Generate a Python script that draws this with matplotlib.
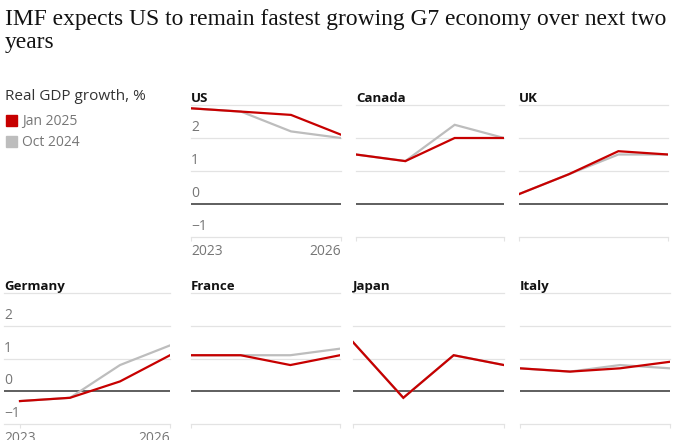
import matplotlib

matplotlib.use('Agg')
import matplotlib.pyplot as plt

# data
years = [2023, 2024, 2025, 2026]
countries = ['US', 'Canada', 'UK', 'Germany', 'France', 'Japan', 'Italy']
jan_2025 = {
    'US': [2.9, 2.8, 2.7, 2.1],
    'Canada': [1.5, 1.3, 2.0, 2.0],
    'UK': [0.3, 0.9, 1.6, 1.5],
    'Germany': [-0.3, -0.2, 0.3, 1.1],
    'France': [1.1, 1.1, 0.8, 1.1],
    'Japan': [1.5, -0.2, 1.1, 0.8],
    'Italy': [0.7, 0.6, 0.7, 0.9],
}
oct_2024 = {
    'US': [2.9, 2.8, 2.2, 2.0],
    'Canada': [1.5, 1.3, 2.4, 2.0],
    'UK': [0.3, 0.9, 1.5, 1.5],
    'Germany': [-0.3, -0.2, 0.8, 1.4],
    'France': [1.1, 1.1, 1.1, 1.3],
    'Japan': [1.5, -0.2, 1.1, 0.8],
    'Italy': [0.7, 0.6, 0.8, 0.7],
}
grid_values = [-1, 0, 1, 2, 3]
label_values = [-1, 0, 1, 2]
year_labels = ['2023', '2026']
legend_labels = ['Jan 2025', 'Oct 2024']
title_lines = ['IMF expects US to remain fastest growing G7 economy over next two', 'years']

RED = '#c70000'
GREY = '#bdbdbd'
SANS = 'Open Sans'

W, H = 680, 440
fig = plt.figure(figsize=(W / 100, H / 100), dpi=100)

# panel boxes in pixels: left, right, top gridline y, bottom gridline y, data start px
panels = {
    'US': (191, 341, 105, 237, 191),
    'Canada': (356, 504, 105, 237, 356),
    'UK': (519, 668, 105, 237, 519),
    'Germany': (4, 170, 293, 424, 20),
    'France': (191, 340, 293, 424, 191),
    'Japan': (353, 504, 293, 424, 353),
    'Italy': (520, 670, 293, 424, 520),
}
with_labels = ['US', 'Germany']

for c in countries:
    l, r, t, b, d0 = panels[c]
    ax = fig.add_axes([l / W, 1 - b / H, (r - l) / W, (b - t) / H])
    per_year = (r - d0) / 3.0
    ax.set_xlim(2023 - (d0 - l) / per_year, 2026)
    ax.set_ylim(-1, 3)
    for v in grid_values:
        if v == 0:
            ax.axhline(v, color='#333333', lw=1.1, zorder=1)
        else:
            ax.axhline(v, color='#e3e3e3', lw=0.9, zorder=0, clip_on=False)
    ax.plot(years, oct_2024[c], color=GREY, lw=1.6, zorder=2, solid_joinstyle='miter')
    ax.plot(years, jan_2025[c], color=RED, lw=1.6, zorder=3, solid_joinstyle='miter')
    for s in ax.spines.values():
        s.set_visible(False)
    ax.set_yticks([])
    ax.set_xticks([2023, 2026])
    ax.tick_params(axis='x', length=3, color='#e3e3e3', labelbottom=False)
    ax.text(0, 1.0, c, transform=ax.transAxes, fontsize=9.5, fontweight='bold',
            family=SANS, color='#121212', ha='left', va='bottom')
    if c in with_labels:
        for v in label_values:
            lab = str(v).replace('-', '\u2212')
            ax.annotate(lab, xy=(0, v), xycoords=('axes fraction', 'data'),
                        xytext=(0, 2), textcoords='offset points',
                        ha='left', va='bottom', fontsize=10, color='#767676', family=SANS)
        ax.annotate(year_labels[0], xy=(0, -1), xycoords=('axes fraction', 'data'),
                    xytext=(0, -5), textcoords='offset points', ha='left', va='top',
                    fontsize=10, color='#767676', family=SANS, annotation_clip=False)
        ax.annotate(year_labels[1], xy=(1, -1), xycoords=('axes fraction', 'data'),
                    xytext=(0, -5), textcoords='offset points', ha='right', va='top',
                    fontsize=10, color='#767676', family=SANS, annotation_clip=False)

# title, two lines placed on their baselines
for i, line in enumerate(title_lines):
    fig.text(5 / W, 1 - (25 + 23 * i) / H, line, ha='left', va='baseline',
             fontsize=16.9, family='Liberation Serif', color='#121212')

# legend
fig.text(5 / W, 1 - 96 / H, 'Real GDP growth, %', ha='left', va='center',
         fontsize=11, family=SANS, color='#333333')
for i, (lab, col) in enumerate(zip(legend_labels, [RED, GREY])):
    y = 1 - (121 + 21 * i) / H
    fig.patches.append(plt.Rectangle((6 / W, y - 5.5 / H), 11 / W, 11 / H,
                                     transform=fig.transFigure, color=col, figure=fig))
    fig.text(22 / W, y, lab, ha='left', va='center', fontsize=10, family=SANS, color='#767676')

fig.savefig('out.png', dpi=100)
